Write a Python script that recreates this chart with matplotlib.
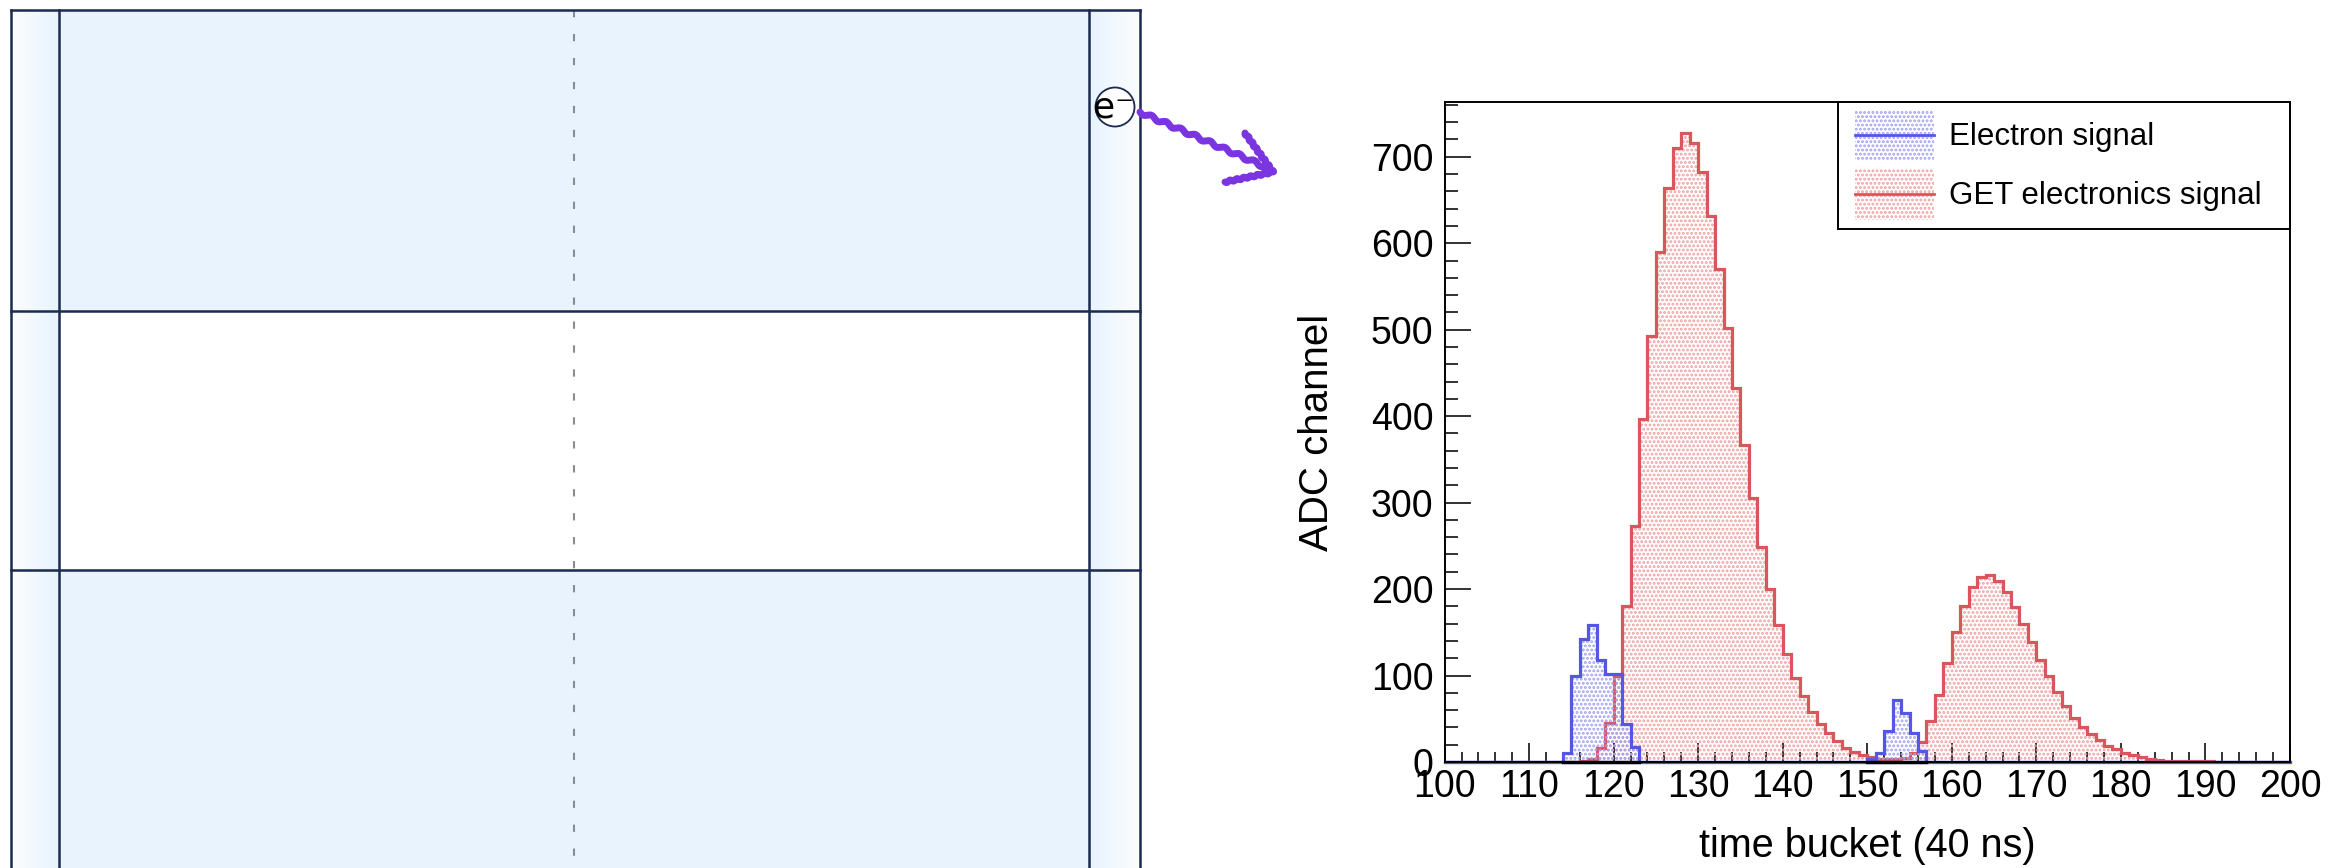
import numpy as np
import matplotlib
matplotlib.use("Agg")
import matplotlib.pyplot as plt
from matplotlib.patches import Rectangle, Circle
from matplotlib.ticker import MultipleLocator

plt.rcParams['font.family'] = ['Liberation Sans', 'DejaVu Sans']
plt.rcParams['hatch.linewidth'] = 1.4

# ---------------- data ----------------
bin_edges = np.arange(100, 201)  # time bucket edges (40 ns)

electron_signal = [0]*14 + [10, 100, 142, 159, 118, 102, 102, 44, 17] + [0]*27 + \
                  [3, 10, 36, 72, 57, 34, 13] + [0]*43

get_signal = [0]*16 + [1, 3, 16, 45, 100, 180, 273, 397, 493, 590, 664, 710, 727, 716,
                       682, 632, 570, 502, 433, 367, 305, 249, 200, 159, 125, 97, 76,
                       58, 44, 33, 24, 16, 11.5, 8, 6, 4, 4, 4, 5, 10, 23, 47, 78, 115,
                       150, 181, 202, 214, 216, 209, 197, 179, 160, 139, 118, 99, 81,
                       65, 51, 41, 32, 25, 19, 14.5, 10.8, 7.7, 5.4, 3.8, 2.3, 1.5, 1.5,
                       1.2, 1.0, 1.0, 0.8] + [0]*9

series_labels = ["Electron signal", "GET electronics signal"]
x_label = "time bucket (40 ns)"
y_label = "ADC channel"

# ---------------- figure ----------------
W, H = 2347, 868
fig = plt.figure(figsize=(W/100, H/100), dpi=100)

# ---- left: pad diagram (pixel coordinates) ----
dax = fig.add_axes([0, 0, 1, 1])
dax.axis('off')

navy = '#1B2A4E'
lightblue = '#E8F3FE'
x_out_l, x_in_l, x_mid, x_in_r, x_out_r = 11, 59, 574, 1089, 1140
y_top, y_h1, y_h2, y_bot = 10, 311, 570, 900

dax.add_patch(Rectangle((x_in_l, y_top), x_in_r - x_in_l, y_h1 - y_top, facecolor=lightblue, edgecolor='none'))
dax.add_patch(Rectangle((x_in_l, y_h2), x_in_r - x_in_l, y_bot - y_h2, facecolor=lightblue, edgecolor='none'))

grad = np.linspace(0, 1, 64)[None, :]
c0 = np.array([0.985, 0.992, 1.0])
c1 = np.array([0.91, 0.953, 0.996])
img_l = c0[None, None, :] * (1 - grad[..., None]) + c1[None, None, :] * grad[..., None]
img_r = img_l[:, ::-1, :]
dax.imshow(img_l, extent=(x_out_l, x_in_l, y_bot, y_top), aspect='auto', zorder=1)
dax.imshow(img_r, extent=(x_in_r, x_out_r, y_bot, y_top), aspect='auto', zorder=1)
dax.set_xlim(0, W)
dax.set_ylim(H, 0)

lw = 1.8
for xv in (x_out_l, x_in_l, x_in_r, x_out_r):
    dax.plot([xv, xv], [y_top, y_bot], color=navy, lw=lw, zorder=3)
for yv in (y_top, y_h1, y_h2):
    dax.plot([x_out_l, x_out_r], [yv, yv], color=navy, lw=lw, zorder=3)
dax.plot([x_mid, x_mid], [y_top, y_bot], color='#8A8C94', lw=1.5,
         dashes=(3.5, 8), zorder=2)

# electron symbol
dax.add_patch(Circle((1115, 107), 19.5, facecolor='white', edgecolor=navy, lw=1.3, zorder=5))
dax.text(1114, 108, "e\u207b", fontsize=26, ha='center', va='center', zorder=6,
         family=['DejaVu Sans'])

# wavy purple arrow
purple = '#7A34E0'
p0 = np.array([1140.0, 112.0])
p1 = np.array([1268.0, 168.0])
t = np.linspace(0, 1, 300)
d = p1 - p0
L = np.hypot(*d)
nrm = np.array([-d[1], d[0]]) / L
wave = 1.6 * np.sin(2 * np.pi * t * L / 16.0)
pts = p0[None, :] + t[:, None] * d[None, :] + wave[:, None] * nrm[None, :]
dax.plot(pts[:, 0], pts[:, 1], color=purple, lw=5.0, solid_capstyle='round', zorder=6)
tip = np.array([1273.0, 172.0])
for s in (np.array([1245.0, 133.0]), np.array([1225.0, 182.0])):
    dd = tip - s
    LL = np.hypot(*dd)
    nn = np.array([-dd[1], dd[0]]) / LL
    tt = np.linspace(0, 1, 80)
    ww = 0.9 * np.sin(2 * np.pi * tt * LL / 7.0)
    pp = s[None, :] + tt[:, None] * dd[None, :] + ww[:, None] * nn[None, :]
    dax.plot(pp[:, 0], pp[:, 1], color=purple, lw=5.0, solid_capstyle='round', zorder=6)

# ---- right: histogram ----
ax_l, ax_r, ax_t, ax_b = 1444.6, 2290.0, 102.0, 762.0
ax = fig.add_axes([ax_l / W, 1 - ax_b / H, (ax_r - ax_l) / W, (ax_b - ax_t) / H])
ax.set_facecolor('none')

red_line, red_dot = '#D9575C', '#EFA0A3'
blue_line, blue_dot = '#5656E4', '#A0A0EE'

el = np.array(electron_signal, dtype=float)
ge = np.array(get_signal, dtype=float)

ax.stairs(ge, bin_edges, fill=True, facecolor='none', edgecolor=red_dot,
          hatch='....', linewidth=0, zorder=2)
ax.stairs(ge, bin_edges, color=red_line, lw=2.3, zorder=3)
ax.stairs(el, bin_edges, fill=True, facecolor='none', edgecolor=blue_dot,
          hatch='....', linewidth=0, zorder=4)
ax.stairs(el, bin_edges, color=blue_line, lw=2.3, zorder=5)
ax.plot([bin_edges[0], bin_edges[-1]], [0, 0], color=blue_line, lw=2.4, zorder=5,
        clip_on=False)
# black baseline under electron pulses
nz = np.nonzero(el)[0]
groups = np.split(nz, np.where(np.diff(nz) > 1)[0] + 1)
for g in groups:
    ax.plot([bin_edges[g[0]], bin_edges[g[-1] + 1]], [0, 0], color='black', lw=2.4,
            zorder=6, clip_on=False)

ax.set_xlim(100, 200)
ax.set_ylim(0, 1.05 * ge.max())
ax.xaxis.set_major_locator(MultipleLocator(10))
ax.xaxis.set_minor_locator(MultipleLocator(2))
ax.yaxis.set_major_locator(MultipleLocator(100))
ax.yaxis.set_minor_locator(MultipleLocator(20))
ax.tick_params(axis='both', which='both', direction='in', top=False, right=False,
               width=1.3, color='#222222', labelsize=27)
ax.tick_params(axis='y', which='major', length=18.5, pad=8)
ax.tick_params(axis='y', which='minor', length=9.5)
ax.tick_params(axis='x', which='major', length=13.5, pad=5)
ax.tick_params(axis='x', which='minor', length=7)
for sp in ax.spines.values():
    sp.set_linewidth(1.4)
    sp.set_color('black')
    sp.set_zorder(7)

ax.set_xlabel(x_label, fontsize=28.5)
ax.set_ylabel(y_label, fontsize=29)
ax.xaxis.set_label_coords(0.5, -0.098)
ax.yaxis.set_label_coords(-0.128, 0.5)

# ---- legend box (ROOT TLegend style), axes-fraction layout ----
tA = ax.transAxes
ax.add_patch(Rectangle((0.4653, 0.8076), 1 - 0.4653, 1 - 0.8076, transform=tA,
                       facecolor='white', edgecolor='black', lw=1.4, zorder=10,
                       clip_on=False))
entries = [(blue_dot, blue_line, 0.9106), (red_dot, red_line, 0.8212)]
for (dot, line, y0), lab in zip(entries, series_labels):
    ax.add_patch(Rectangle((0.4854, y0), 0.0934, 0.0773, transform=tA, facecolor='none',
                           edgecolor=dot, hatch='....', linewidth=0, zorder=11))
    ym = y0 + 0.0773 / 2
    ax.plot([0.4854, 0.5788], [ym, ym], transform=tA, color=line, lw=2.0, zorder=12)
    ax.text(0.5966, ym - 0.003, lab, transform=tA, fontsize=22.5, ha='left',
            va='center', zorder=12)

fig.savefig("out.png", dpi=100)
